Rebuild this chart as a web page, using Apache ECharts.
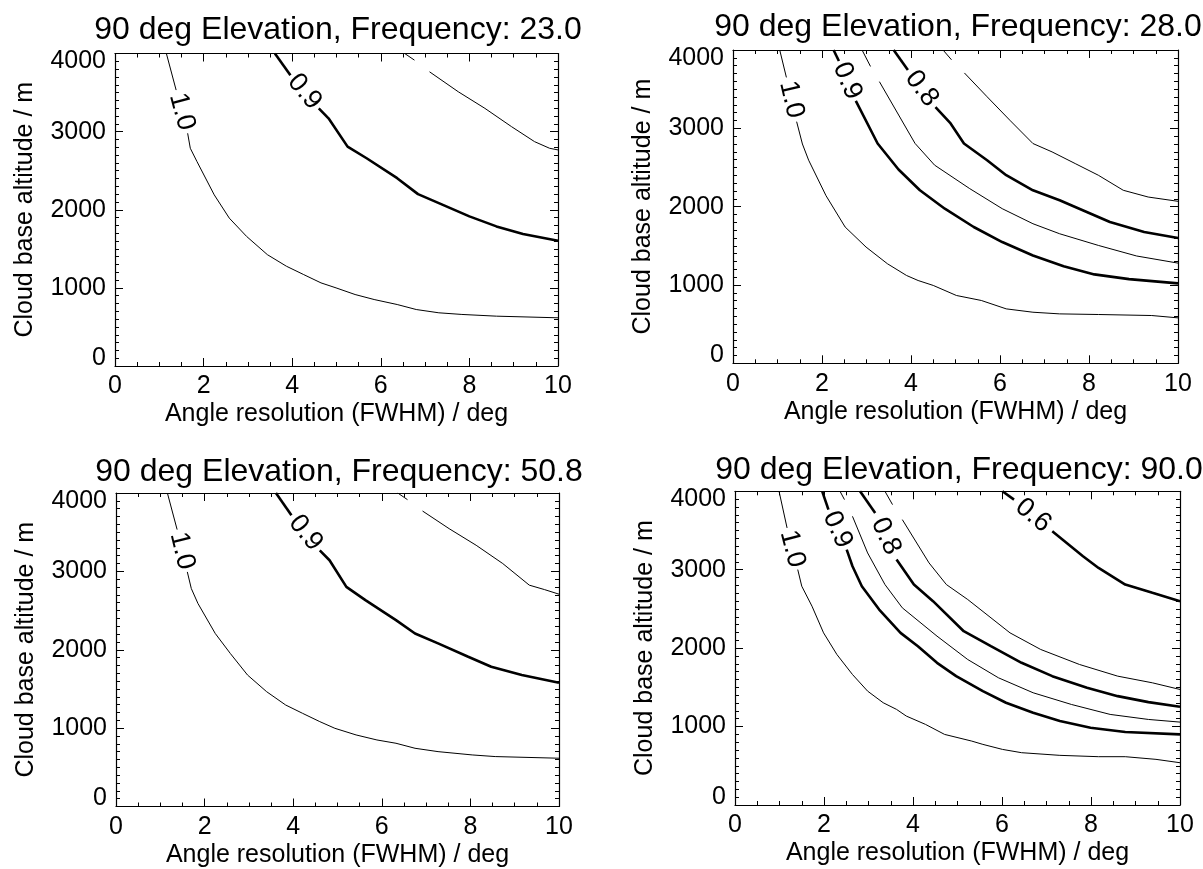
<!DOCTYPE html>
<html>
<head>
<meta charset="utf-8">
<script src="https://cdn.jsdelivr.net/npm/echarts@6/dist/echarts.min.js"></script>
<style>
html,body{margin:0;padding:0;background:#fff;}
#chart{width:1203px;height:869px;}
</style>
</head>
<body>
<div id="chart"></div>
<script>
// ---------------- data ----------------
const titles = [
  '90 deg Elevation, Frequency: 23.0',
  '90 deg Elevation, Frequency: 28.0',
  '90 deg Elevation, Frequency: 50.8',
  '90 deg Elevation, Frequency: 90.0'
];
const xAxisName = 'Angle resolution (FWHM) / deg';
const yAxisName = 'Cloud base altitude / m';
const xTickValues = [0, 2, 4, 6, 8, 10];
const xTickLabels = ['0', '2', '4', '6', '8', '10'];
const yTickValues = [0, 1000, 2000, 3000, 4000];
const yTickLabels = ['0', '1000', '2000', '3000', '4000'];

// contour polylines [x (deg), y (m)]; null = gap left for the contour label
// 23.0 GHz
const c23_100 = [[1.16,4000],[1.38,3532],null,[1.64,2979],[1.70,2787],[1.85,2617],[2.24,2191],[2.58,1893],[2.97,1659],[3.44,1425],[3.87,1277],[4.26,1170],[4.65,1064],[4.99,1000],[5.42,915],[5.85,851],[6.37,787],[6.80,723],[7.31,681],[7.83,660],[8.61,638],[10.0,617]];
const c23_090 = [[3.61,4000],[3.96,3723],null,[4.60,3298],[4.82,3170],[5.25,2808],[5.68,2659],[6.37,2404],[6.84,2200],[7.31,2085],[8.00,1915],[8.61,1787],[9.21,1689],[10.0,1604]];
const c23_085 = [[6.54,4000],[6.76,3915],null,[7.10,3766],[7.75,3510],[8.35,3298],[8.95,3064],[9.47,2872],[9.81,2787],[10.0,2766]];
// 28.0 GHz
const c28_100 = [[1.05,4000],[1.20,3650],null,[1.43,3085],[1.56,2800],[1.70,2593],[2.09,2140],[2.52,1740],[2.99,1484],[3.47,1271],[3.90,1121],[4.16,1057],[4.50,994],[5.02,866],[5.58,802],[6.14,695],[6.74,652],[7.34,631],[8.21,623],[9.41,610],[10.0,580]];
const c28_090 = [[2.26,4000],[2.38,3860],null,[2.76,3350],[3.25,2806],[3.72,2475],[4.20,2209],[4.76,1974],[5.41,1740],[6.05,1548],[6.74,1377],[7.43,1240],[8.12,1135],[8.90,1075],[10.0,1020]];
const c28_085 = [[2.90,4000],[3.09,3790],null,[3.29,3596],[4.09,2808],[4.53,2530],[5.32,2230],[6.05,1974],[6.74,1782],[7.34,1654],[8.21,1505],[9.07,1370],[10.0,1279]];
const c28_080 = [[3.61,4000],[3.93,3745],null,[4.55,3270],[4.89,3062],[5.19,2806],[5.71,2593],[6.14,2401],[6.74,2209],[7.34,2081],[7.95,1932],[8.47,1804],[9.24,1676],[10.0,1599]];
const c28_075 = [[4.72,4000],[4.91,3875],null,[5.20,3707],[5.71,3403],[6.22,3104],[6.74,2806],[7.17,2699],[7.69,2550],[8.21,2401],[8.77,2209],[9.33,2123],[10.0,2068]];
// 50.8 GHz
const c50_100 = [[1.16,4000],[1.38,3533],null,[1.61,2993],[1.70,2781],[1.85,2590],[2.24,2208],[2.58,1953],[2.97,1677],[3.40,1465],[3.83,1295],[4.21,1189],[4.60,1083],[4.94,998],[5.42,913],[5.89,849],[6.32,807],[6.75,743],[7.27,700],[8.04,658],[8.56,637],[10.0,616]];
const c50_090 = [[3.61,4000],[3.96,3715],null,[4.60,3269],[4.82,3142],[5.20,2802],[5.63,2633],[6.32,2378],[6.75,2208],[7.27,2081],[7.95,1911],[8.47,1783],[9.16,1677],[10.0,1580]];
const c50_085 = [[6.36,4000],[6.58,3915],null,[6.92,3770],[7.52,3545],[8.13,3333],[8.73,3100],[9.33,2824],[9.67,2768],[10.0,2709]];
// 90.0 GHz
const c90_100 = [[0.99,4000],[1.17,3533],null,[1.41,3002],[1.50,2790],[1.73,2535],[1.99,2195],[2.29,1919],[2.64,1664],[2.98,1452],[3.33,1304],[3.63,1219],[3.85,1134],[4.28,1028],[4.71,900],[5.32,815],[5.57,773],[6.01,709],[6.44,667],[7.30,633],[8.17,616],[8.77,616],[9.46,582],[10.0,539]];
const c90_090 = [[1.96,4000],[2.10,3766],null,[2.51,3257],[2.64,3044],[2.85,2790],[3.24,2492],[3.72,2195],[4.11,2025],[4.54,1813],[4.97,1643],[5.57,1452],[6.09,1304],[6.70,1176],[7.30,1070],[7.99,985],[8.77,930],[10.0,900]];
const c90_085 = [[2.36,4000],[2.46,3894],null,[2.64,3681],[2.98,3214],[3.37,2811],[3.76,2514],[4.54,2153],[5.23,1855],[5.92,1622],[6.70,1431],[7.56,1282],[8.43,1155],[9.29,1091],[10.0,1057]];
const c90_080 = [[2.81,4000],[3.15,3724],null,[3.63,3129],[4.02,2811],[4.45,2599],[5.14,2216],[5.75,2025],[6.44,1813],[7.13,1643],[7.91,1495],[8.60,1388],[9.29,1312],[10.0,1253]];
const c90_075 = [[3.37,4000],[3.54,3830],null,[3.76,3639],[4.36,3087],[4.75,2811],[5.23,2620],[6.18,2195],[6.87,1983],[7.74,1792],[8.60,1643],[9.38,1558],[10.0,1473]];
const c90_060 = [[6.01,4000],[6.27,3894],null,[7.13,3490],[7.82,3172],[8.17,3023],[8.77,2811],[9.38,2705],[10.0,2599]];

const levels23 = [1.0, 0.9, 0.85];
const levels28 = [1.0, 0.9, 0.85, 0.8, 0.75];
const levels50 = [1.0, 0.9, 0.85];
const levels90 = [1.0, 0.9, 0.85, 0.8, 0.75, 0.6];
const contours23 = [c23_100, c23_090, c23_085];
const contours28 = [c28_100, c28_090, c28_085, c28_080, c28_075];
const contours50 = [c50_100, c50_090, c50_085];
const contours90 = [c90_100, c90_090, c90_085, c90_080, c90_075, c90_060];

// ---------------- layout / style ----------------
const FONT = '"Liberation Sans", Arial, Helvetica, sans-serif';
const layout = [
  {left: 115, top: 53.5, width: 443, height: 312.5, tx: 338, ty: 30},
  {left: 733, top: 50,   width: 445, height: 313.3, tx: 958, ty: 27},
  {left: 116, top: 493,  width: 443, height: 313.5, tx: 339, ty: 472},
  {left: 735, top: 491.3,width: 445, height: 313.7, tx: 959, ty: 470}
];
const panelLevels = [levels23, levels28, levels50, levels90];
const panelContours = [contours23, contours28, contours50, contours90];

function isLabeled(l) { return Math.abs(l * 10 - Math.round(l * 10)) < 1e-6; }

const grids = [], xAxes = [], yAxes = [], series = [], graphics = [], pendingLabels = [];
const txt = {color: '#000', fontFamily: FONT, fontSize: 25};

layout.forEach((L, i) => {
  grids.push({left: L.left, top: L.top, width: L.width, height: L.height, containLabel: false});
  [true, false].forEach(main => {
    xAxes.push({
      type: 'value', gridIndex: i, min: 0, max: 10, interval: 2,
      position: main ? 'bottom' : 'top',
      axisLine: {show: true, onZero: false, lineStyle: {color: '#000', width: 1.2}},
      axisTick: {show: true, inside: true, length: 8, lineStyle: {color: '#000', width: 1}},
      minorTick: {show: true, splitNumber: 4, length: 4, lineStyle: {color: '#000', width: 1}},
      splitLine: {show: false}, minorSplitLine: {show: false},
      axisLabel: main ? Object.assign({show: true, margin: 8,
        formatter: v => { const k = xTickValues.indexOf(v); return k >= 0 ? xTickLabels[k] : ''; }}, txt) : {show: false},
      name: main ? xAxisName : '', nameLocation: 'middle', nameGap: 36,
      nameTextStyle: txt
    });
    yAxes.push({
      type: 'value', gridIndex: i, min: 0, max: 4000, interval: 1000,
      position: main ? 'left' : 'right',
      axisLine: {show: true, onZero: false, lineStyle: {color: '#000', width: 1.2}},
      axisTick: {show: true, inside: true, length: 8, lineStyle: {color: '#000', width: 1}},
      minorTick: {show: true, splitNumber: 10, length: 4, lineStyle: {color: '#000', width: 1}},
      splitLine: {show: false}, minorSplitLine: {show: false},
      axisLabel: main ? Object.assign({show: true, margin: 9,
        formatter: v => {
          const k = yTickValues.indexOf(v); const s = k >= 0 ? yTickLabels[k] : '';
          if (v === 4000) return '{t|' + s + '}';
          if (v === 0) return '{b|' + s + '}';
          return s;
        },
        rich: {
          t: Object.assign({padding: [16, 0, 0, 0]}, txt),
          b: Object.assign({padding: [0, 0, 16, 0]}, txt)
        }}, txt) : {show: false},
      name: main ? yAxisName : '', nameLocation: 'middle', nameGap: 77,
      nameTextStyle: txt
    });
  });

  graphics.push({
    type: 'text', x: L.tx, y: L.ty,
    style: {text: titles[i], fill: '#000', font: '32px ' + FONT, align: 'center', verticalAlign: 'middle'}
  });

  const levels = panelLevels[i];
  panelContours[i].forEach((pts, j) => {
    const lev = levels[j];
    const labeled = isLabeled(lev);
    const thick = labeled && lev < 1;
    let seg = [];
    const segs = [];
    pts.forEach(p => { if (p === null) { segs.push(seg); seg = []; } else seg.push(p); });
    segs.push(seg);
    segs.forEach(s => {
      series.push({
        type: 'line', xAxisIndex: 2 * i, yAxisIndex: 2 * i, data: s,
        showSymbol: false, symbol: 'none', silent: true, animation: false,
        lineStyle: {color: '#000', width: thick ? 2.6 : 1}
      });
    });
    if (labeled) {
      const g = pts.indexOf(null);
      pendingLabels.push({i: i, a: pts[g - 1], b: pts[g + 1], text: lev.toFixed(1)});
    }
  });
});

const chart = echarts.init(document.getElementById('chart'), null, {renderer: 'canvas'});
chart.setOption({
  backgroundColor: '#fff',
  animation: false,
  grid: grids,
  xAxis: xAxes,
  yAxis: yAxes,
  series: series,
  graphic: graphics
});

// contour labels: placed in the gap, rotated along the contour (pixel positions from the axes)
const labelGraphics = pendingLabels.map(o => {
  const finder = {xAxisIndex: 2 * o.i, yAxisIndex: 2 * o.i};
  const pa = chart.convertToPixel(finder, o.a);
  const pb = chart.convertToPixel(finder, o.b);
  const ang = Math.atan2(pb[1] - pa[1], pb[0] - pa[0]);
  return {
    type: 'text', x: (pa[0] + pb[0]) / 2, y: (pa[1] + pb[1]) / 2, rotation: -ang,
    style: {text: o.text, fill: '#000', font: '27px ' + FONT, align: 'center', verticalAlign: 'middle'}
  };
});
chart.setOption({graphic: graphics.concat(labelGraphics)});
</script>
</body>
</html>
